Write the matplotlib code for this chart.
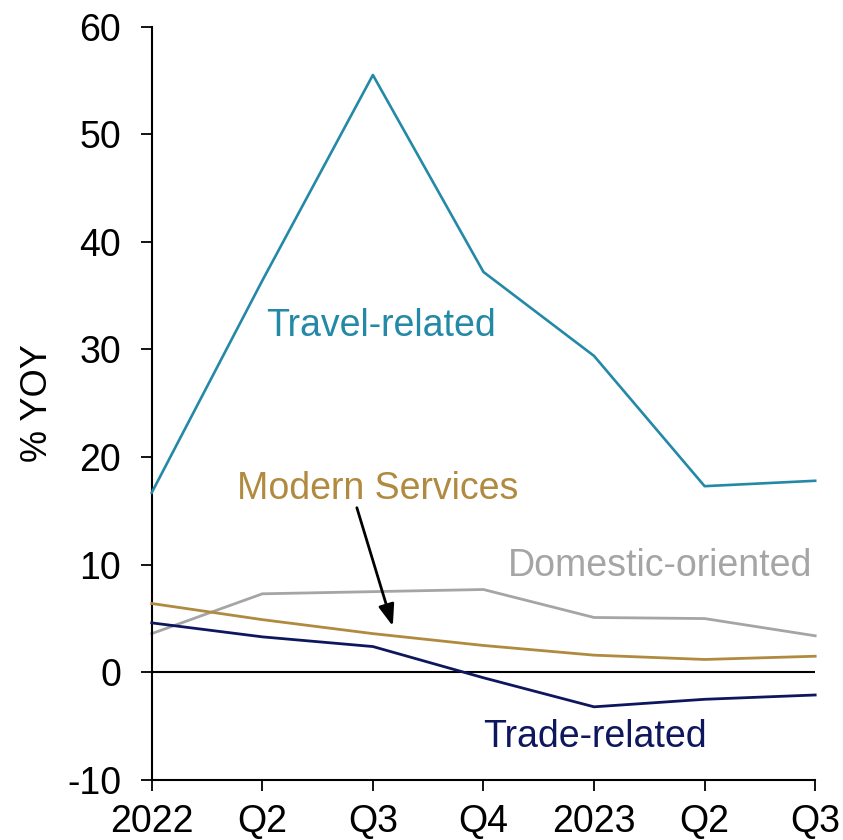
import matplotlib
matplotlib.use("Agg")
import matplotlib.pyplot as plt

categories = ["2022", "Q2", "Q3", "Q4", "2023", "Q2", "Q3"]
travel = [16.7, 36.4, 55.5, 37.2, 29.4, 17.3, 17.8]
domestic = [3.6, 7.3, 7.5, 7.7, 5.1, 5.0, 3.4]
modern = [6.4, 4.9, 3.6, 2.5, 1.6, 1.2, 1.5]
trade = [4.6, 3.3, 2.4, -0.5, -3.2, -2.5, -2.1]

c_travel = "#2389A6"
c_domestic = "#A5A5A5"
c_modern = "#B08A3E"
c_trade = "#0E165E"

plt.rcParams['font.family'] = ['Liberation Sans', 'DejaVu Sans']
plt.rcParams['axes.unicode_minus'] = False

fig = plt.figure(figsize=(8.43, 8.40), dpi=100)
ax = fig.add_axes([0.180, 0.0714, 0.787, 0.897])

x = list(range(len(categories)))
ax.axhline(0, color="black", lw=1.5, zorder=1)
ax.plot(x, domestic, color=c_domestic, lw=2, clip_on=False, zorder=2)
ax.plot(x, modern, color=c_modern, lw=2, clip_on=False, zorder=3)
ax.plot(x, trade, color=c_trade, lw=2, clip_on=False, zorder=3)
ax.plot(x, travel, color=c_travel, lw=1.9, clip_on=False, zorder=3)

ax.set_xlim(0, 6)
ax.set_ylim(-10, 60)
ax.set_yticks(range(-10, 61, 10))
ax.set_xticks(x)
ax.set_xticklabels(categories)
ax.tick_params(axis='both', labelsize=27, length=8, width=1.3, direction='out')
ax.tick_params(axis='y', pad=14)
ax.tick_params(axis='x', pad=9)
for s in ['top', 'right']:
    ax.spines[s].set_visible(False)
for s in ['left', 'bottom']:
    ax.spines[s].set_linewidth(1.5)

ax.set_ylabel("% YOY", fontsize=26, labelpad=9)

fs = 27
ax.text(2.07, 32.2, "Travel-related", color=c_travel, fontsize=fs, ha='center', va='center')
ax.text(2.04, 17.0, "Modern Services", color=c_modern, fontsize=fs, ha='center', va='center')
ax.text(4.60, 9.85, "Domestic-oriented", color=c_domestic, fontsize=fs, ha='center', va='center')
ax.text(4.01, -6.0, "Trade-related", color=c_trade, fontsize=fs, ha='center', va='center')
ax.annotate("", xy=(2.18, 4.3), xytext=(1.855, 15.3),
            arrowprops=dict(arrowstyle='-|>,head_length=0.65,head_width=0.24', color='black',
                            lw=2, mutation_scale=20, shrinkA=0, shrinkB=0))

fig.savefig("out.png", dpi=100)
